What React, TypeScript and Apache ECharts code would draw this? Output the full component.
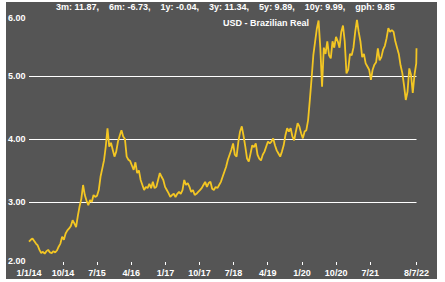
import React, { useEffect, useRef } from 'react';
import * as echarts from 'echarts';

const seriesName = 'USD - Brazilian Real';
const statsText = '3m: 11.87,    6m: -6.73,    1y: -0.04,    3y: 11.34,    5y: 9.89,    10y: 9.99,    gph: 9.85';

const startDate = '2014-01-01';
const stepDays = 14;
const rates2014 = [2.37, 2.40, 2.42, 2.38, 2.34, 2.31, 2.24, 2.19, 2.21, 2.18, 2.22, 2.24, 2.20, 2.19, 2.22, 2.20, 2.23, 2.29,
  2.34, 2.45, 2.40, 2.50, 2.55, 2.58, 2.62, 2.71, 2.66, 2.60, 2.78];
const rates2015 = [2.93, 3.05, 3.27, 3.11, 3.02, 2.95, 3.03, 3.00, 3.11, 3.08, 3.10, 3.19, 3.40, 3.53, 3.66, 3.88, 4.17, 3.88, 3.94, 3.83, 3.72, 3.80,
  3.96, 4.05, 4.14, 4.04, 4.00, 3.72, 3.67, 3.65, 3.58, 3.51, 3.63, 3.46, 3.50, 3.35, 3.27, 3.19, 3.24, 3.22, 3.29, 3.22, 3.32, 3.22];
const rates2017 = [3.24, 3.35, 3.46, 3.40, 3.35, 3.24, 3.19, 3.14, 3.08, 3.11, 3.13, 3.08, 3.13, 3.16, 3.13, 3.19, 3.35, 3.27, 3.30, 3.24, 3.16, 3.19,
  3.11, 3.13, 3.16, 3.19, 3.22, 3.27, 3.32, 3.24, 3.30, 3.32, 3.21, 3.19, 3.24, 3.22, 3.27, 3.32, 3.40, 3.48, 3.56, 3.67, 3.75, 3.83];
const rates2018 = [3.93, 3.75, 3.72, 3.95, 4.12, 4.20, 4.05, 3.88, 3.69, 3.64, 3.77, 3.90, 3.87, 3.93, 3.75, 3.69, 3.66, 3.75, 3.80, 3.88, 3.96, 3.93,
  3.96, 4.01, 3.90, 3.82, 3.77, 3.72, 3.80, 3.90, 4.06, 4.17, 4.12, 4.17, 4.04, 3.98, 4.12, 4.25, 4.20, 4.09, 4.01, 4.12, 4.14, 4.30];
const rates2020 = [4.62, 4.96, 5.33, 5.54, 5.75, 5.88, 5.45, 4.83, 5.45, 5.35, 5.55, 5.33, 5.28, 5.55, 5.45, 5.62, 5.55, 5.45, 5.70, 5.80, 5.55, 5.04,
  5.10, 5.35, 5.33, 5.45, 5.70, 5.89, 5.70, 5.55, 5.30, 5.35, 5.20, 5.15, 5.10, 4.94, 5.10, 5.18, 5.22, 5.44, 5.25, 5.30, 5.42, 5.48];
const rates2021 = [5.60, 5.76, 5.70, 5.73, 5.70, 5.55, 5.45, 5.35, 5.17, 5.05, 4.85, 4.62, 4.75, 5.12, 5.02, 4.73, 5.02, 5.20];
const lastDate = '2022-07-08';
const lastRate = 5.44;

const tickDates = ['2014-01-01', '2014-10-01', '2015-07-01', '2016-04-01', '2017-01-01', '2017-10-01', '2018-07-01', '2019-04-01', '2020-01-01', '2020-10-01', '2021-07-01', '2022-07-08'];
const tickLabels = ['1/1/14', '10/14', '7/15', '4/16', '1/17', '10/17', '7/18', '4/19', '1/20', '10/20', '7/21', '8/7/22'];

const yMin = 2;
const yMax = 6;
const yStep = 1;

const DAY = 86400000;
const dayOf = (d: string) => Math.round((Date.parse(d) - Date.parse(startDate)) / DAY);

export default function App() {
  const ref = useRef<HTMLDivElement>(null);
  useEffect(() => {
    if (!ref.current) return;
    const chart = echarts.init(ref.current, undefined, { renderer: 'svg' });
    const rates = [...rates2014, ...rates2015, ...rates2017, ...rates2018, ...rates2020, ...rates2021];
    const data: [number, number][] = rates.map((v, i) => [i * stepDays, v]);
    const lastDay = dayOf(lastDate);
    data.push([lastDay, lastRate]);
    const tickDays = tickDates.map(dayOf);
    const labelOf = (v: number) => {
      const idx = tickDays.findIndex((d) => Math.abs(d - v) < 1);
      return idx >= 0 ? tickLabels[idx] : '';
    };
    const txt = { color: '#ffffff', fontSize: 9, fontWeight: 'bold' as const, fontFamily: 'Liberation Sans, Arial, sans-serif' };
    chart.setOption({
      animation: false,
      graphic: [
        { type: 'rect', shape: { x: 6, y: 2, width: 431, height: 277 }, style: { fill: '#555555' }, z: -10, silent: true },
      ],
      title: { text: statsText, left: 56, top: 2, padding: 0, textStyle: txt },
      legend: {
        data: [{ name: seriesName, icon: 'none' }],
        left: 218, top: 18, padding: 0, itemWidth: 0, itemHeight: 0,
        textStyle: txt,
      },
      grid: { left: 29, right: 28.5, top: 13, bottom: 17 },
      xAxis: {
        type: 'value', min: 0, max: lastDay,
        axisLine: { show: false },
        splitLine: { show: false },
        axisTick: { show: true, inside: true, length: 3, lineStyle: { color: '#ffffff' }, customValues: tickDays.slice(1) },
        axisLabel: { ...txt, customValues: tickDays, formatter: (v: number) => labelOf(v), margin: 3, hideOverlap: false },
      },
      yAxis: {
        type: 'value', min: yMin, max: yMax, interval: yStep,
        axisLine: { show: false },
        axisTick: { show: false },
        splitLine: { show: true, showMinLine: false, showMaxLine: false, lineStyle: { color: '#ffffff', width: 1.2 } },
        axisLabel: { ...txt, formatter: (v: number) => v.toFixed(2), align: 'left', margin: 21, verticalAlignMaxLabel: 'top', verticalAlignMinLabel: 'bottom' },
      },
      series: [{
        type: 'line', name: seriesName, data, symbol: 'none', showSymbol: false,
        lineStyle: { color: '#f3c623', width: 1.8 }, itemStyle: { color: '#f3c623' },
      }],
    });
    return () => chart.dispose();
  }, []);
  return (
    <div style={{ position: 'fixed', left: 0, top: 0, width: 445, height: 282, background: '#ffffff' }}>
      <div ref={ref} style={{ width: 445, height: 282 }} />
    </div>
  );
}
